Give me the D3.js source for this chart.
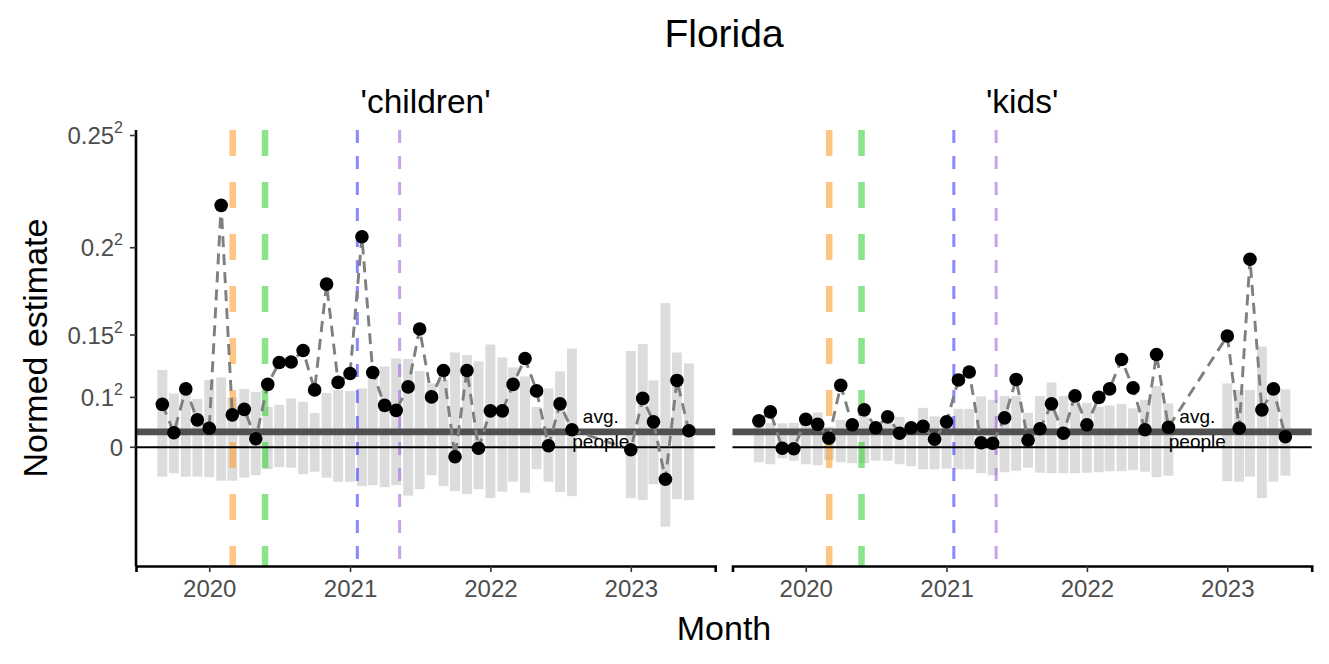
<!DOCTYPE html>
<html><head><meta charset="utf-8">
<script src="https://cdn.jsdelivr.net/npm/d3@7"></script>
<style>body{margin:0;background:#fff}svg{display:block;font-family:"Liberation Sans",Arial,sans-serif}</style>
</head><body><svg id="c" width="1329" height="664"></svg>
<script>
const months = ["2019-09","2019-10","2019-11","2019-12","2020-01","2020-02","2020-03","2020-04","2020-05","2020-06","2020-07","2020-08","2020-09","2020-10","2020-11","2020-12","2021-01","2021-02","2021-03","2021-04","2021-05","2021-06","2021-07","2021-08","2021-09","2021-10","2021-11","2021-12","2022-01","2022-02","2022-03","2022-04","2022-05","2022-06","2022-07","2022-08","2022-09","2022-10","2022-11","2022-12","2023-01","2023-02","2023-03","2023-04","2023-05","2023-06"];
const panels = ["'children'","'kids'"];
const childrenValues = [0.0086,0.0029,0.0117,0.0055,0.0038,0.0485,0.0065,0.0076,0.0017,0.0126,0.0170,0.0171,0.0194,0.0115,0.0327,0.0130,0.0148,0.0422,0.0150,0.0084,0.0074,0.0121,0.0237,0.0101,0.0154,-0.0019,0.0154,-0.0002,0.0073,0.0073,0.0126,0.0178,0.0113,0.0003,0.0087,0.0035,null,null,null,null,-0.0005,0.0098,0.0051,-0.0064,0.0134,0.0033];
const kidsValues = [0.0053,0.0071,-0.0002,-0.0003,0.0056,0.0046,0.0018,0.0124,0.0045,0.0075,0.0039,0.0061,0.0028,0.0039,0.0042,0.0016,0.0051,0.0135,0.0151,0.0009,0.0008,0.0059,0.0136,0.0014,0.0037,0.0087,0.0028,0.0103,0.0045,0.0100,0.0117,0.0176,0.0119,0.0035,0.0186,0.0040,null,null,null,null,0.0223,0.0038,0.0377,0.0075,0.0117,0.0021];
const childrenHi = [0.0155,0.0108,0.0113,0.0097,0.0135,0.0140,0.0100,0.0117,0.0111,0.0081,0.0085,0.0098,0.0091,0.0069,0.0109,0.0115,0.0113,0.0118,0.0160,0.0162,0.0178,0.0177,0.0153,0.0128,0.0135,0.0190,0.0185,0.0172,0.0206,0.0180,0.0160,0.0142,0.0081,0.0118,0.0152,0.0198,null,null,null,null,0.0193,0.0207,0.0134,0.0289,0.0190,0.0168];
const childrenLo = [-0.0059,-0.0052,-0.0059,-0.0059,-0.0060,-0.0067,-0.0067,-0.0061,-0.0056,-0.0044,-0.0040,-0.0041,-0.0054,-0.0049,-0.0061,-0.0069,-0.0069,-0.0078,-0.0076,-0.0080,-0.0076,-0.0097,-0.0084,-0.0056,-0.0078,-0.0088,-0.0094,-0.0084,-0.0102,-0.0089,-0.0069,-0.0091,-0.0044,-0.0069,-0.0090,-0.0098,null,null,null,null,-0.0102,-0.0106,-0.0074,-0.0159,-0.0104,-0.0106];
const kidsHi = [0.0045,0.0049,0.0048,0.0049,0.0065,0.0070,0.0041,0.0055,0.0055,0.0061,0.0048,0.0055,0.0061,0.0048,0.0079,0.0062,0.0061,0.0077,0.0077,0.0102,0.0095,0.0103,0.0103,0.0069,0.0103,0.0130,0.0103,0.0097,0.0089,0.0081,0.0084,0.0087,0.0078,0.0095,0.0123,0.0088,null,null,null,null,0.0128,0.0115,0.0115,0.0202,0.0118,0.0116];
const kidsLo = [-0.0030,-0.0034,-0.0022,-0.0027,-0.0034,-0.0036,-0.0026,-0.0030,-0.0032,-0.0032,-0.0027,-0.0027,-0.0034,-0.0038,-0.0044,-0.0044,-0.0043,-0.0044,-0.0044,-0.0052,-0.0056,-0.0050,-0.0047,-0.0041,-0.0051,-0.0052,-0.0052,-0.0052,-0.0051,-0.0050,-0.0048,-0.0048,-0.0046,-0.0049,-0.0060,-0.0057,null,null,null,null,-0.0068,-0.0069,-0.0059,-0.0102,-0.0069,-0.0057];
const avgPeople = 0.0031;
const eventDates = ["2020-03-02","2020-05-25","2021-01-20","2021-05-10"];
const eventColors = ["#ff9f2e","#3ed23e","#3a3aff","#a066e0"];
const yTickBases = [0, 0.1, 0.15, 0.2, 0.25];
const yTickLabels = ["0","0.1","0.15","0.2","0.25"];
const xTickYears = ["2020","2021","2022","2023"];
const labelDate = "2022-10-15";

const svg = d3.select("#c");
const parseM = d3.utcParse("%Y-%m");
const parseD = d3.utcParse("%Y-%m-%d");
const dates = months.map(parseM);
const first = dates[0], last = dates[dates.length-1];
const pad = (last - first) * 0.05;
const panelW = 579.2;
const panelX = [136, 732.5];
const y = d3.scaleLinear().domain([-0.0238, 0.0636]).range([566, 130]);
const series = [
  {vals: childrenValues, hi: childrenHi, lo: childrenLo},
  {vals: kidsValues, hi: kidsHi, lo: kidsLo}
];

svg.append("text").attr("x", 724).attr("y", 47).attr("text-anchor","middle")
  .attr("font-size", 39).attr("fill","#000").text("Florida");

series.forEach((s, pi) => {
  const x0 = panelX[pi];
  const x = d3.scaleUtc().domain([new Date(+first - pad), new Date(+last + pad)]).range([x0, x0 + panelW]);
  const g = svg.append("g");
  const step = x(dates[1]) - x(dates[0]);
  const bw = step * 0.86;
  const rows = dates.map((d,i)=>({d, v:s.vals[i], hi:s.hi[i], lo:s.lo[i]}));
  g.selectAll("rect.bar").data(rows.filter(r=>r.hi!=null)).join("rect")
    .attr("x", r=>x(r.d)-bw/2).attr("width", bw)
    .attr("y", r=>y(r.hi)).attr("height", r=>y(r.lo)-y(r.hi))
    .attr("fill","#dcdcdc");
  eventDates.forEach((ed,i)=>{
    const xx = x(parseD(ed));
    g.append("line").attr("x1",xx).attr("x2",xx).attr("y1",130).attr("y2",566)
      .attr("stroke", eventColors[i]).attr("stroke-opacity",0.6)
      .attr("stroke-width", i<2 ? 6.5 : 3)
      .attr("stroke-dasharray", i<2 ? "26,26" : "13,13");
  });
  g.append("line").attr("x1",x0).attr("x2",x0+panelW).attr("y1",y(avgPeople)).attr("y2",y(avgPeople))
    .attr("stroke","#505050").attr("stroke-width",6.8);
  g.append("line").attr("x1",x0).attr("x2",x0+panelW).attr("y1",y(0)).attr("y2",y(0))
    .attr("stroke","#000").attr("stroke-width",2.2);
  const pts = rows.filter(r=>r.v!=null);
  g.append("path").datum(pts)
    .attr("d", d3.line().x(r=>x(r.d)).y(r=>y(r.v)))
    .attr("fill","none").attr("stroke","#7f7f7f").attr("stroke-width",2.9)
    .attr("stroke-dasharray","11,7");
  g.selectAll("circle").data(pts).join("circle")
    .attr("cx", r=>x(r.d)).attr("cy", r=>y(r.v)).attr("r", 6.8).attr("fill","#000");
  const lx = x(parseD(labelDate));
  g.append("text").attr("x",lx).attr("y",y(avgPeople)-9).attr("text-anchor","middle")
    .attr("font-size",19).text("avg.");
  g.append("text").attr("x",lx).attr("y",y(avgPeople)+16).attr("text-anchor","middle")
    .attr("font-size",19).text("people");
  svg.append("text").attr("x", x0 + panelW/2).attr("y", 113).attr("text-anchor","middle")
    .attr("font-size", 33.5).text(panels[pi]);
  const ax = svg.append("g").attr("transform",`translate(0,566)`)
    .call(d3.axisBottom(x).tickValues(xTickYears.map(t=>parseD(t+"-01-01"))).tickFormat(d3.utcFormat("%Y")).tickSizeOuter(0).tickSize(6).tickPadding(8));
  ax.select(".domain").attr("stroke","#000").attr("stroke-width",2.6);
  ax.selectAll(".tick line").attr("stroke","#333").attr("stroke-width",1.6);
  ax.selectAll(".tick text").attr("font-size",24).attr("fill","#4d4d4d").attr("font-family","Liberation Sans, Arial, sans-serif");
  if (pi === 0) {
    const ay = svg.append("g").attr("transform",`translate(${x0},0)`);
    ay.append("line").attr("x1",0).attr("x2",0).attr("y1",130).attr("y2",566).attr("stroke","#000").attr("stroke-width",2.6);
    yTickBases.forEach((b,i)=>{
      const yy = y(b*b);
      ay.append("line").attr("x1",-6).attr("x2",0).attr("y1",yy).attr("y2",yy).attr("stroke","#333").attr("stroke-width",1.6);
      const t = ay.append("text").attr("x",-13).attr("y",yy+8.5).attr("text-anchor","end")
        .attr("font-size",24).attr("fill","#4d4d4d");
      t.append("tspan").text(yTickLabels[i]);
      if (b !== 0) t.append("tspan").attr("dy",-11).attr("font-size",16).text("2");
    });
  }
});

svg.append("text").attr("transform","translate(47,348) rotate(-90)").attr("text-anchor","middle")
  .attr("font-size", 34).text("Normed estimate");
svg.append("text").attr("x", 724).attr("y", 640).attr("text-anchor","middle")
  .attr("font-size", 34).text("Month");
</script></body></html>
